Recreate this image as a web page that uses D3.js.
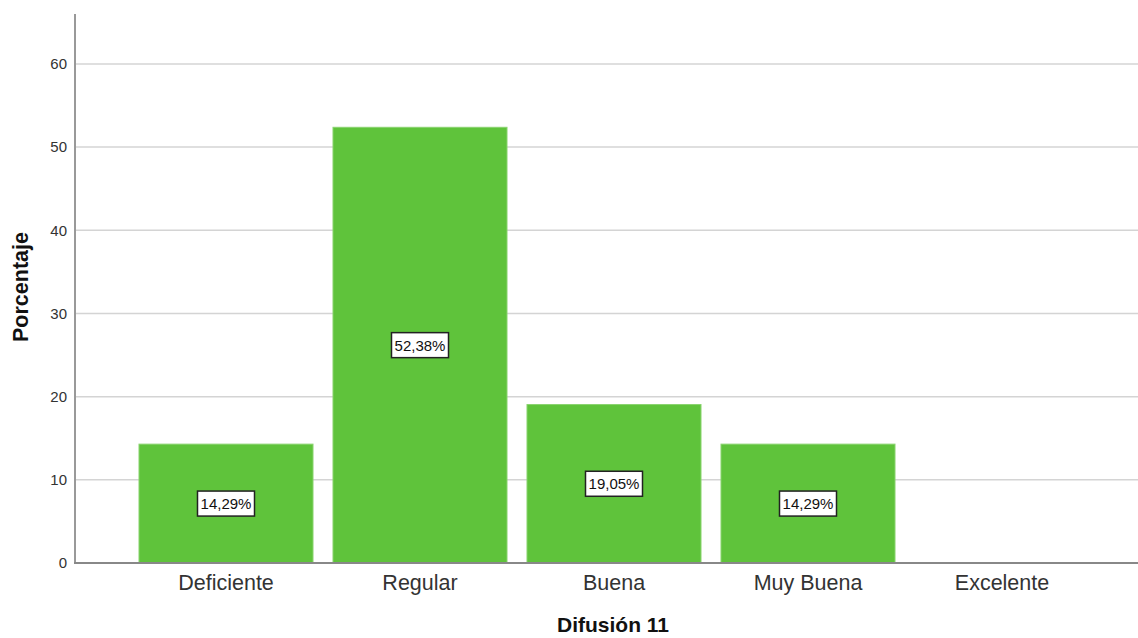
<!DOCTYPE html>
<html><head><meta charset="utf-8">
<script src="https://cdn.jsdelivr.net/npm/d3@7"></script>
<style>body{margin:0;background:#fff}svg{display:block}</style>
</head><body>
<svg id="c" width="1138" height="638"></svg>
<script>
const categories = ["Deficiente","Regular","Buena","Muy Buena","Excelente"];
const values = [14.29, 52.38, 19.05, 14.29, 0];
const valueLabels = ["14,29%","52,38%","19,05%","14,29%",""];
const yTicks = [0,10,20,30,40,50,60];
const xTitle = "Difusión 11";
const yTitle = "Porcentaje";

const svg = d3.select("#c");
const axisX = 75, baseY = 563, topY = 14, rightX = 1138;
const x = d3.scaleBand().domain(categories).range([129,1099]).paddingInner(0.103).paddingOuter(0.0515);
const y = d3.scaleLinear().domain([0,66]).range([baseY, topY]);

// grid
svg.append("g").selectAll("line").data(yTicks.filter(d=>d>0)).join("line")
  .attr("x1",axisX).attr("x2",rightX).attr("y1",d=>y(d)).attr("y2",d=>y(d))
  .attr("stroke","#d4d4d4").attr("stroke-width",1.5);

// bars
const data = categories.map((c,i)=>({c, v:values[i], l:valueLabels[i]}));
svg.append("g").selectAll("rect").data(data.filter(d=>d.v>0)).join("rect")
  .attr("x",d=>x(d.c)).attr("width",x.bandwidth())
  .attr("y",d=>y(d.v)).attr("height",d=>y(0)-y(d.v))
  .attr("fill","#5fc33b").attr("stroke","#8ad46f").attr("stroke-width",1);

// axes
const yAxis = d3.axisLeft(y).tickValues(yTicks).tickSize(0).tickPadding(8);
const gy = svg.append("g").attr("transform",`translate(${axisX},0)`).call(yAxis);
gy.select(".domain").remove();
gy.selectAll("text").attr("font-family","Arial, 'Liberation Sans', sans-serif").attr("font-size",15).attr("fill","#333");

const xAxis = d3.axisBottom(x).tickSize(0).tickPadding(12);
const gx = svg.append("g").attr("transform",`translate(0,${baseY})`).call(xAxis);
gx.select(".domain").remove();
gx.selectAll("text").attr("font-family","Arial, 'Liberation Sans', sans-serif").attr("font-size",21.5).attr("fill","#333");

svg.append("line").attr("x1",axisX).attr("x2",axisX).attr("y1",topY).attr("y2",baseY+1)
  .attr("stroke","#999").attr("stroke-width",2);
svg.append("line").attr("x1",axisX-1).attr("x2",rightX).attr("y1",baseY).attr("y2",baseY)
  .attr("stroke","#888").attr("stroke-width",2);

// value labels
const lg = svg.append("g").selectAll("g").data(data.filter(d=>d.v>0)).join("g")
  .attr("transform",d=>`translate(${x(d.c)+x.bandwidth()/2},${y(d.v/2)})`);
lg.append("rect").attr("x",-28.5).attr("y",-12.5).attr("width",57).attr("height",25)
  .attr("fill","#fff").attr("stroke","#222").attr("stroke-width",1.5);
lg.append("text").text(d=>d.l).attr("text-anchor","middle").attr("dy","0.36em")
  .attr("font-family","Arial, 'Liberation Sans', sans-serif").attr("font-size",15).attr("fill","#111");

// titles
svg.append("text").text(xTitle).attr("x",613).attr("y",632).attr("text-anchor","middle")
  .attr("font-family","Arial, 'Liberation Sans', sans-serif").attr("font-size",21).attr("font-weight","bold").attr("fill","#111");
svg.append("text").text(yTitle).attr("transform","translate(28,287) rotate(-90)").attr("text-anchor","middle")
  .attr("font-family","Arial, 'Liberation Sans', sans-serif").attr("font-size",21.5).attr("font-weight","bold").attr("fill","#111");
</script>
</body></html>
